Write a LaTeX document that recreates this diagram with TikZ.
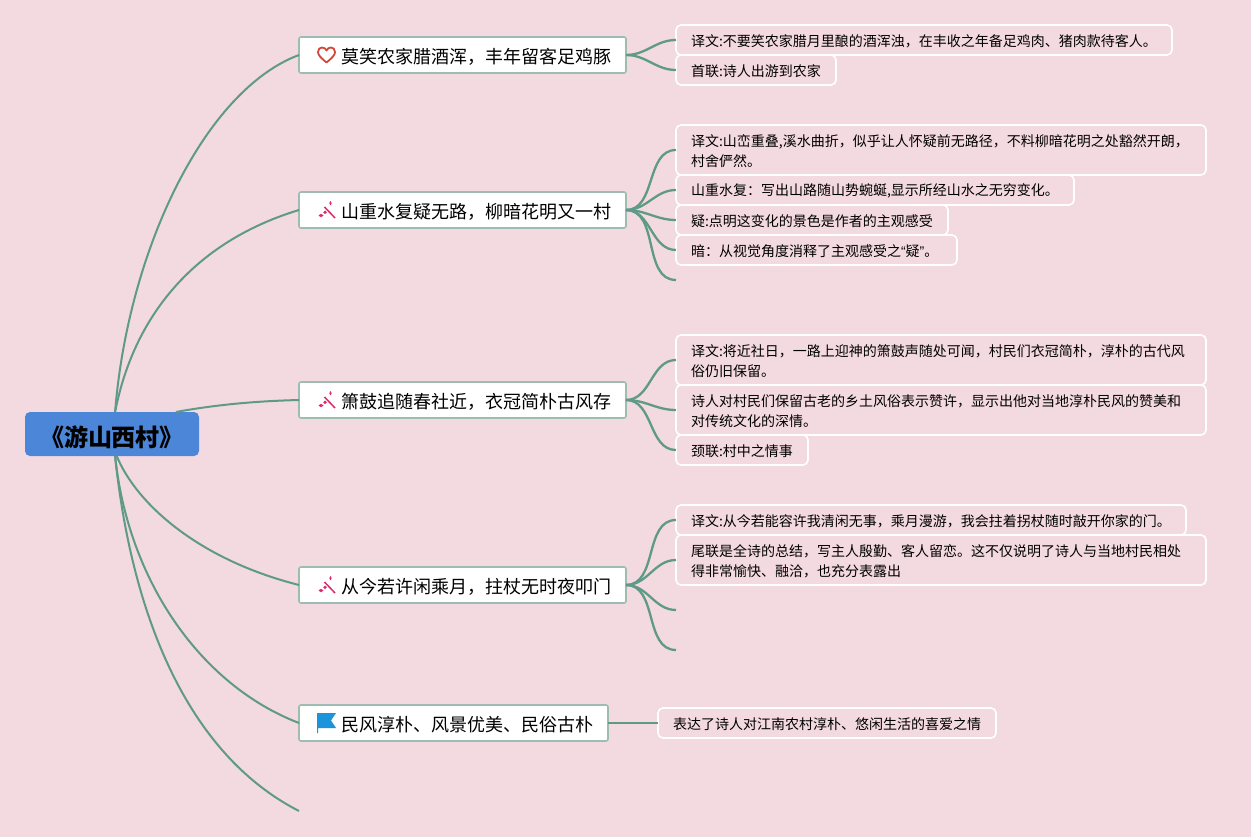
\documentclass[tikz,border=0pt]{standalone}
\usepackage{fontspec}
\setmainfont{Noto Sans CJK SC}
\newfontfamily\quotefont{Liberation Sans}
\usetikzlibrary{positioning}
\definecolor{pagebg}{HTML}{F3D9E0}
\definecolor{linkgreen}{HTML}{5F9A88}
\definecolor{boxgreen}{HTML}{9DBDB2}
\definecolor{rootblue}{HTML}{4C86D9}
\definecolor{heartred}{HTML}{D2493B}
\definecolor{wandpink}{HTML}{E0286A}
\definecolor{flagblue}{HTML}{1B94DC}
\begin{document}
\begin{tikzpicture}
    [
        x=1pt, y=-1pt, node distance=150pt, on grid,
        root_node/.style={rectangle, rounded corners=5pt, fill=rootblue, text=black, outer sep=0pt, inner sep=0pt, minimum width=174pt, minimum height=44pt, text height=27pt, font=\fontsize{24}{28}\selectfont\bfseries},
        topic_node/.style={rectangle, rounded corners=2pt, draw=boxgreen, fill=white, line width=1.6pt, outer sep=0pt, inner xsep=15pt, inner ysep=0pt, minimum height=36pt, text height=18pt, align=right, anchor=west, font=\fontsize{18}{22}\selectfont},
        leaf_node/.style={rectangle, rounded corners=5pt, draw=white, line width=1.6pt, outer sep=0pt, inner xsep=15pt, inner ysep=0pt, minimum height=30pt, text height=14.5pt, align=left, anchor=west, font=\fontsize{14}{20}\selectfont},
        link/.style={line width=2pt, color=linkgreen},
        sub_link/.style={line width=2.3pt, color=linkgreen},
        heart_icon/.pic={\draw[heartred, line width=1.8pt, line join=round] (0,7.5) .. controls (-6,2.5) and (-8.5,0) .. (-8.5,-3) .. controls (-8.5,-6) and (-6.5,-7.5) .. (-4.5,-7.5) .. controls (-2.5,-7.5) and (-1,-6.5) .. (0,-4.5) .. controls (1,-6.5) and (2.5,-7.5) .. (4.5,-7.5) .. controls (6.5,-7.5) and (8.5,-6) .. (8.5,-3) .. controls (8.5,0) and (6,2.5) .. (0,7.5) -- cycle ;},
        wand_icon/.pic={\draw[wandpink, line width=1.5pt] (-2.5,-3) -- (8,8) ; \fill[wandpink] (3.5,-9) -- (4.7,-6.8) -- (3.5,-4.6) -- (2.3,-6.8) -- cycle ; \fill[wandpink] (-8.5,5.5) -- (-6,3.8) -- (-3.5,5.5) -- (-6,7.2) -- cycle ; \fill[wandpink] (-2,0.5) -- (-0.2,2.3) -- (-2,4.1) -- (-3.8,2.3) -- cycle ;},
        flag_icon/.pic={\fill[flagblue] (-9.5,-10) -- (9.5,-10) -- (4.5,-2.5) -- (9.5,5) -- (-8.5,5) -- (-8.5,10) -- (-9.5,10) -- cycle ;},
    ]
        \fill[pagebg] (0,0) rectangle (1251,837) ;
        \useasboundingbox (0,0) rectangle (1251,837) ;
        \node[root_node] (root) at (112,434) {《游山西村》} ;
        \node[topic_node, text width=297pt] (t1) at (299,55) {莫笑农家腊酒浑，丰年留客足鸡豚} ;
        \node[topic_node, text width=297pt, below=155pt of t1.west, anchor=west] (t2) {山重水复疑无路，柳暗花明又一村} ;
        \node[topic_node, text width=297pt, below=190pt of t2.west, anchor=west] (t3) {箫鼓追随春社近，衣冠简朴古风存} ;
        \node[topic_node, text width=297pt, below=185pt of t3.west, anchor=west] (t4) {从今若许闲乘月，拄杖无时夜叩门} ;
        \node[topic_node, text width=279pt, below=138pt of t4.west, anchor=west] (t5) {民风淳朴、风景优美、民俗古朴} ;
        \node[leaf_node, text width=466pt] (t1a) at (676,40) {译文:不要笑农家腊月里酿的酒浑浊，在丰收之年备足鸡肉、猪肉款待客人。} ;
        \node[leaf_node, text width=130pt] (t1b) at (676,70) {首联:诗人出游到农家} ;
        \node[leaf_node, text width=500pt, minimum height=50pt] (t2a) at (676,150) {译文:山峦重叠,溪水曲折，似乎让人怀疑前无路径，不料柳暗花明之处豁然开朗，\\村舍俨然。} ;
        \node[leaf_node, text width=368pt] (t2b) at (676,190) {山重水复：写出山路随山势蜿蜒,显示所经山水之无穷变化。} ;
        \node[leaf_node, text width=242pt] (t2c) at (676,220) {疑:点明这变化的景色是作者的主观感受} ;
        \node[leaf_node, text width=251pt] (t2d) at (676,250) {暗：从视觉角度消释了主观感受之{\quotefont “}疑{\quotefont ”}。} ;
        \coordinate (t2e) at (676,280) ;
        \node[leaf_node, text width=500pt, minimum height=50pt] (t3a) at (676,360) {译文:将近社日，一路上迎神的箫鼓声随处可闻，村民们衣冠简朴，淳朴的古代风\\俗仍旧保留。} ;
        \node[leaf_node, text width=500pt, minimum height=50pt] (t3b) at (676,410) {诗人对村民们保留古老的乡土风俗表示赞许，显示出他对当地淳朴民风的赞美和\\对传统文化的深情。} ;
        \node[leaf_node, text width=102pt] (t3c) at (676,450) {颈联:村中之情事} ;
        \node[leaf_node, text width=480pt] (t4a) at (676,520) {译文:从今若能容许我清闲无事，乘月漫游，我会拄着拐杖随时敲开你家的门。} ;
        \node[leaf_node, text width=500pt, minimum height=50pt] (t4b) at (676,560) {尾联是全诗的总结，写主人殷勤、客人留恋。这不仅说明了诗人与当地村民相处\\得非常愉快、融洽，也充分表露出} ;
        \coordinate (t4c) at (676,610) ;
        \coordinate (t4d) at (676,650) ;
        \node[leaf_node, text width=308pt] (t5a) at (658,723) {表达了诗人对江南农村淳朴、悠闲生活的喜爱之情} ;
        \coordinate (t6) at (299,811) ;
        \pic at (326.5,55) {heart_icon} ;
        \pic at (327,210) {wand_icon} ;
        \pic at (327,400) {wand_icon} ;
        \pic at (327,585) {wand_icon} ;
        \pic at (326.5,723) {flag_icon} ;
        \draw[link] (root.82) .. controls (128,250) and (205,90) .. (t1.west) ;
        \draw[link] (root.82) .. controls (135,310) and (200,240) .. (t2.west) ;
        \draw[link] (root.19) .. controls (220,404) and (260,401) .. (t3.west) ;
        \draw[link] (root.-78) .. controls (137,505) and (200,560) .. (t4.west) ;
        \draw[link] (root.-82) .. controls (128,580) and (200,685) .. (t5.west) ;
        \draw[link] (root.-82) .. controls (130,600) and (180,750) .. (t6) ;
        \draw[sub_link] (t1.east) to[out=0, in=180] (t1a.west) ;
        \draw[sub_link] (t1.east) to[out=0, in=180] (t1b.west) ;
        \draw[sub_link] (t2.east) to[out=0, in=180] (t2a.west) ;
        \draw[sub_link] (t2.east) to[out=0, in=180] (t2b.west) ;
        \draw[sub_link] (t2.east) to[out=0, in=180] (t2c.west) ;
        \draw[sub_link] (t2.east) to[out=0, in=180] (t2d.west) ;
        \draw[sub_link] (t2.east) to[out=0, in=180] (t2e) ;
        \draw[sub_link] (t3.east) to[out=0, in=180] (t3a.west) ;
        \draw[sub_link] (t3.east) to[out=0, in=180] (t3b.west) ;
        \draw[sub_link] (t3.east) to[out=0, in=180] (t3c.west) ;
        \draw[sub_link] (t4.east) to[out=0, in=180] (t4a.west) ;
        \draw[sub_link] (t4.east) to[out=0, in=180] (t4b.west) ;
        \draw[sub_link] (t4.east) to[out=0, in=180] (t4c) ;
        \draw[sub_link] (t4.east) to[out=0, in=180] (t4d) ;
        \draw[sub_link] (t5.east) -- (t5a.west) ;
    \end{tikzpicture}
\end{document}
